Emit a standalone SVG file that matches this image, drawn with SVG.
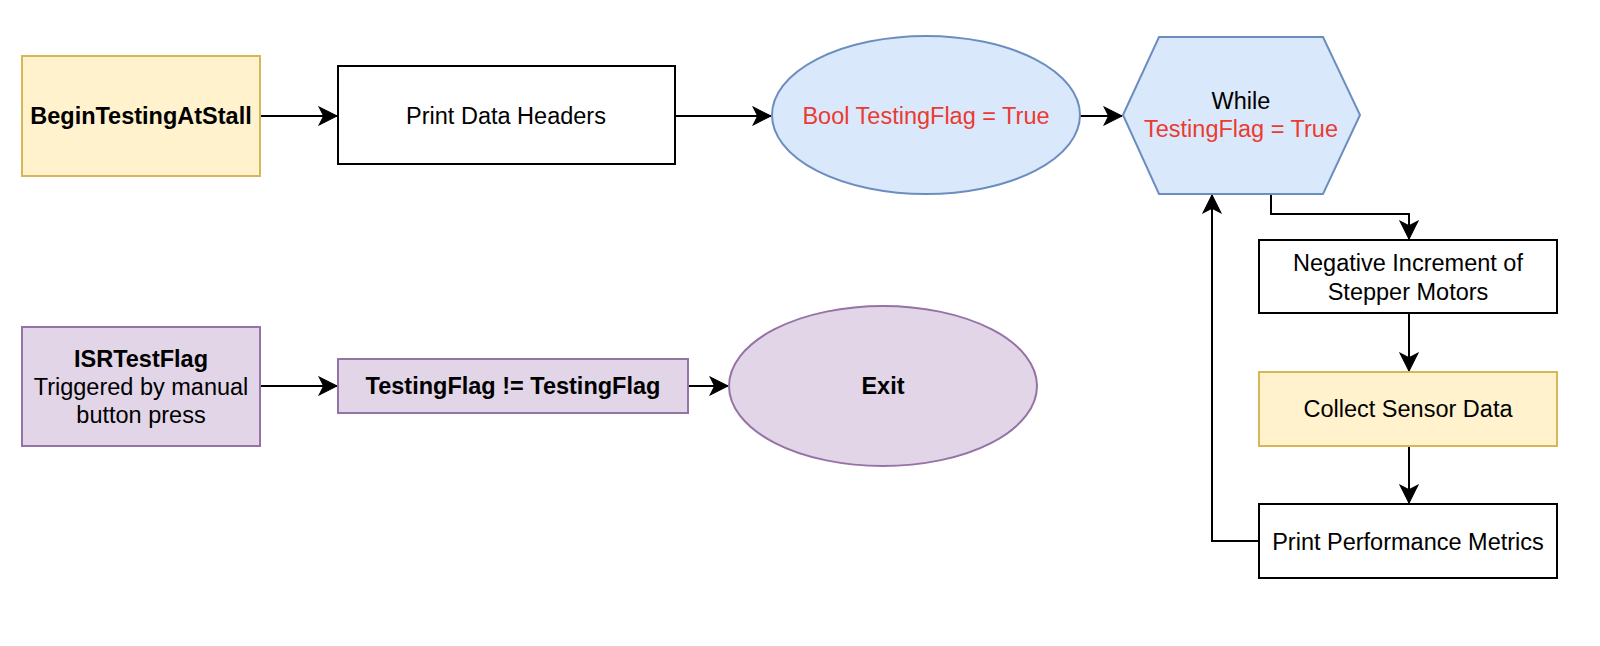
<svg xmlns="http://www.w3.org/2000/svg" width="1600" height="646" viewBox="0 0 1600 646">
<style>
text{font-family:"Liberation Sans",Helvetica,Arial,sans-serif;font-size:23.5px;fill:#000;text-anchor:middle}
.b{font-weight:bold}
.red{fill:#ea3b30}
.plain{fill:#fff;stroke:#000;stroke-width:2}
.yel{fill:#fff2cc;stroke:#d6b656;stroke-width:2}
.blue{fill:#dae8fc;stroke:#6c8ebf;stroke-width:2}
.pur{fill:#e1d5e7;stroke:#9673a6;stroke-width:2}
.edge{fill:none;stroke:#000;stroke-width:2;marker-end:url(#arr)}
</style>
<defs>
<marker id="arr" markerUnits="userSpaceOnUse" markerWidth="20" markerHeight="20" viewBox="-17 -9 18 18" refX="0" refY="0" orient="auto">
<path d="M0,0 L-16,-8 L-12,0 L-16,8 Z" fill="#000" stroke="#000" stroke-width="1"/>
</marker>
</defs>
<rect width="1600" height="646" fill="#fff"/>
<g id="connectors">
<path class="edge" d="M260,116 L337,116"/>
<path class="edge" d="M675,116 L771,116"/>
<path class="edge" d="M1080,116 L1122,116"/>
<path class="edge" d="M1271,194 L1271,214 L1409,214 L1409,239"/>
<path class="edge" d="M1409,313 L1409,371"/>
<path class="edge" d="M1409,446 L1409,503"/>
<path class="edge" d="M1259,541 L1212,541 L1212,195"/>
<path class="edge" d="M260,386 L337,386"/>
<path class="edge" d="M688,386 L728,386"/>
</g>
<g id="begin">
<rect class="yel" x="22" y="56" width="238" height="120"/>
<text class="b" x="141" y="124">BeginTestingAtStall</text>
</g>
<g id="printHeaders">
<rect class="plain" x="338" y="66" width="337" height="98"/>
<text x="506" y="124">Print Data Headers</text>
</g>
<g id="boolFlag">
<ellipse class="blue" cx="926" cy="115" rx="154" ry="79"/>
<text class="red" x="926" y="124">Bool TestingFlag = True</text>
</g>
<g id="whileLoop">
<polygon class="blue" points="1123,115 1159,37 1323,37 1360,115 1323,194 1159,194"/>
<text x="1241" y="109">While</text>
<text class="red" x="1241" y="137">TestingFlag = True</text>
</g>
<g id="negIncrement">
<rect class="plain" x="1259" y="240" width="298" height="73"/>
<text x="1408" y="271">Negative Increment of</text>
<text x="1408" y="300">Stepper Motors</text>
</g>
<g id="collect">
<rect class="yel" x="1259" y="372" width="298" height="74"/>
<text x="1408" y="417">Collect Sensor Data</text>
</g>
<g id="printMetrics">
<rect class="plain" x="1259" y="504" width="298" height="74"/>
<text x="1408" y="550">Print Performance Metrics</text>
</g>
<g id="isr">
<rect class="pur" x="22" y="327" width="238" height="119"/>
<text class="b" x="141" y="367">ISRTestFlag</text>
<text x="141" y="395">Triggered by manual</text>
<text x="141" y="423">button press</text>
</g>
<g id="toggle">
<rect class="pur" x="338" y="359" width="350" height="54"/>
<text class="b" x="513" y="394">TestingFlag != TestingFlag</text>
</g>
<g id="exit">
<ellipse class="pur" cx="883" cy="386" rx="154" ry="80"/>
<text class="b" x="883" y="394">Exit</text>
</g>
</svg>
